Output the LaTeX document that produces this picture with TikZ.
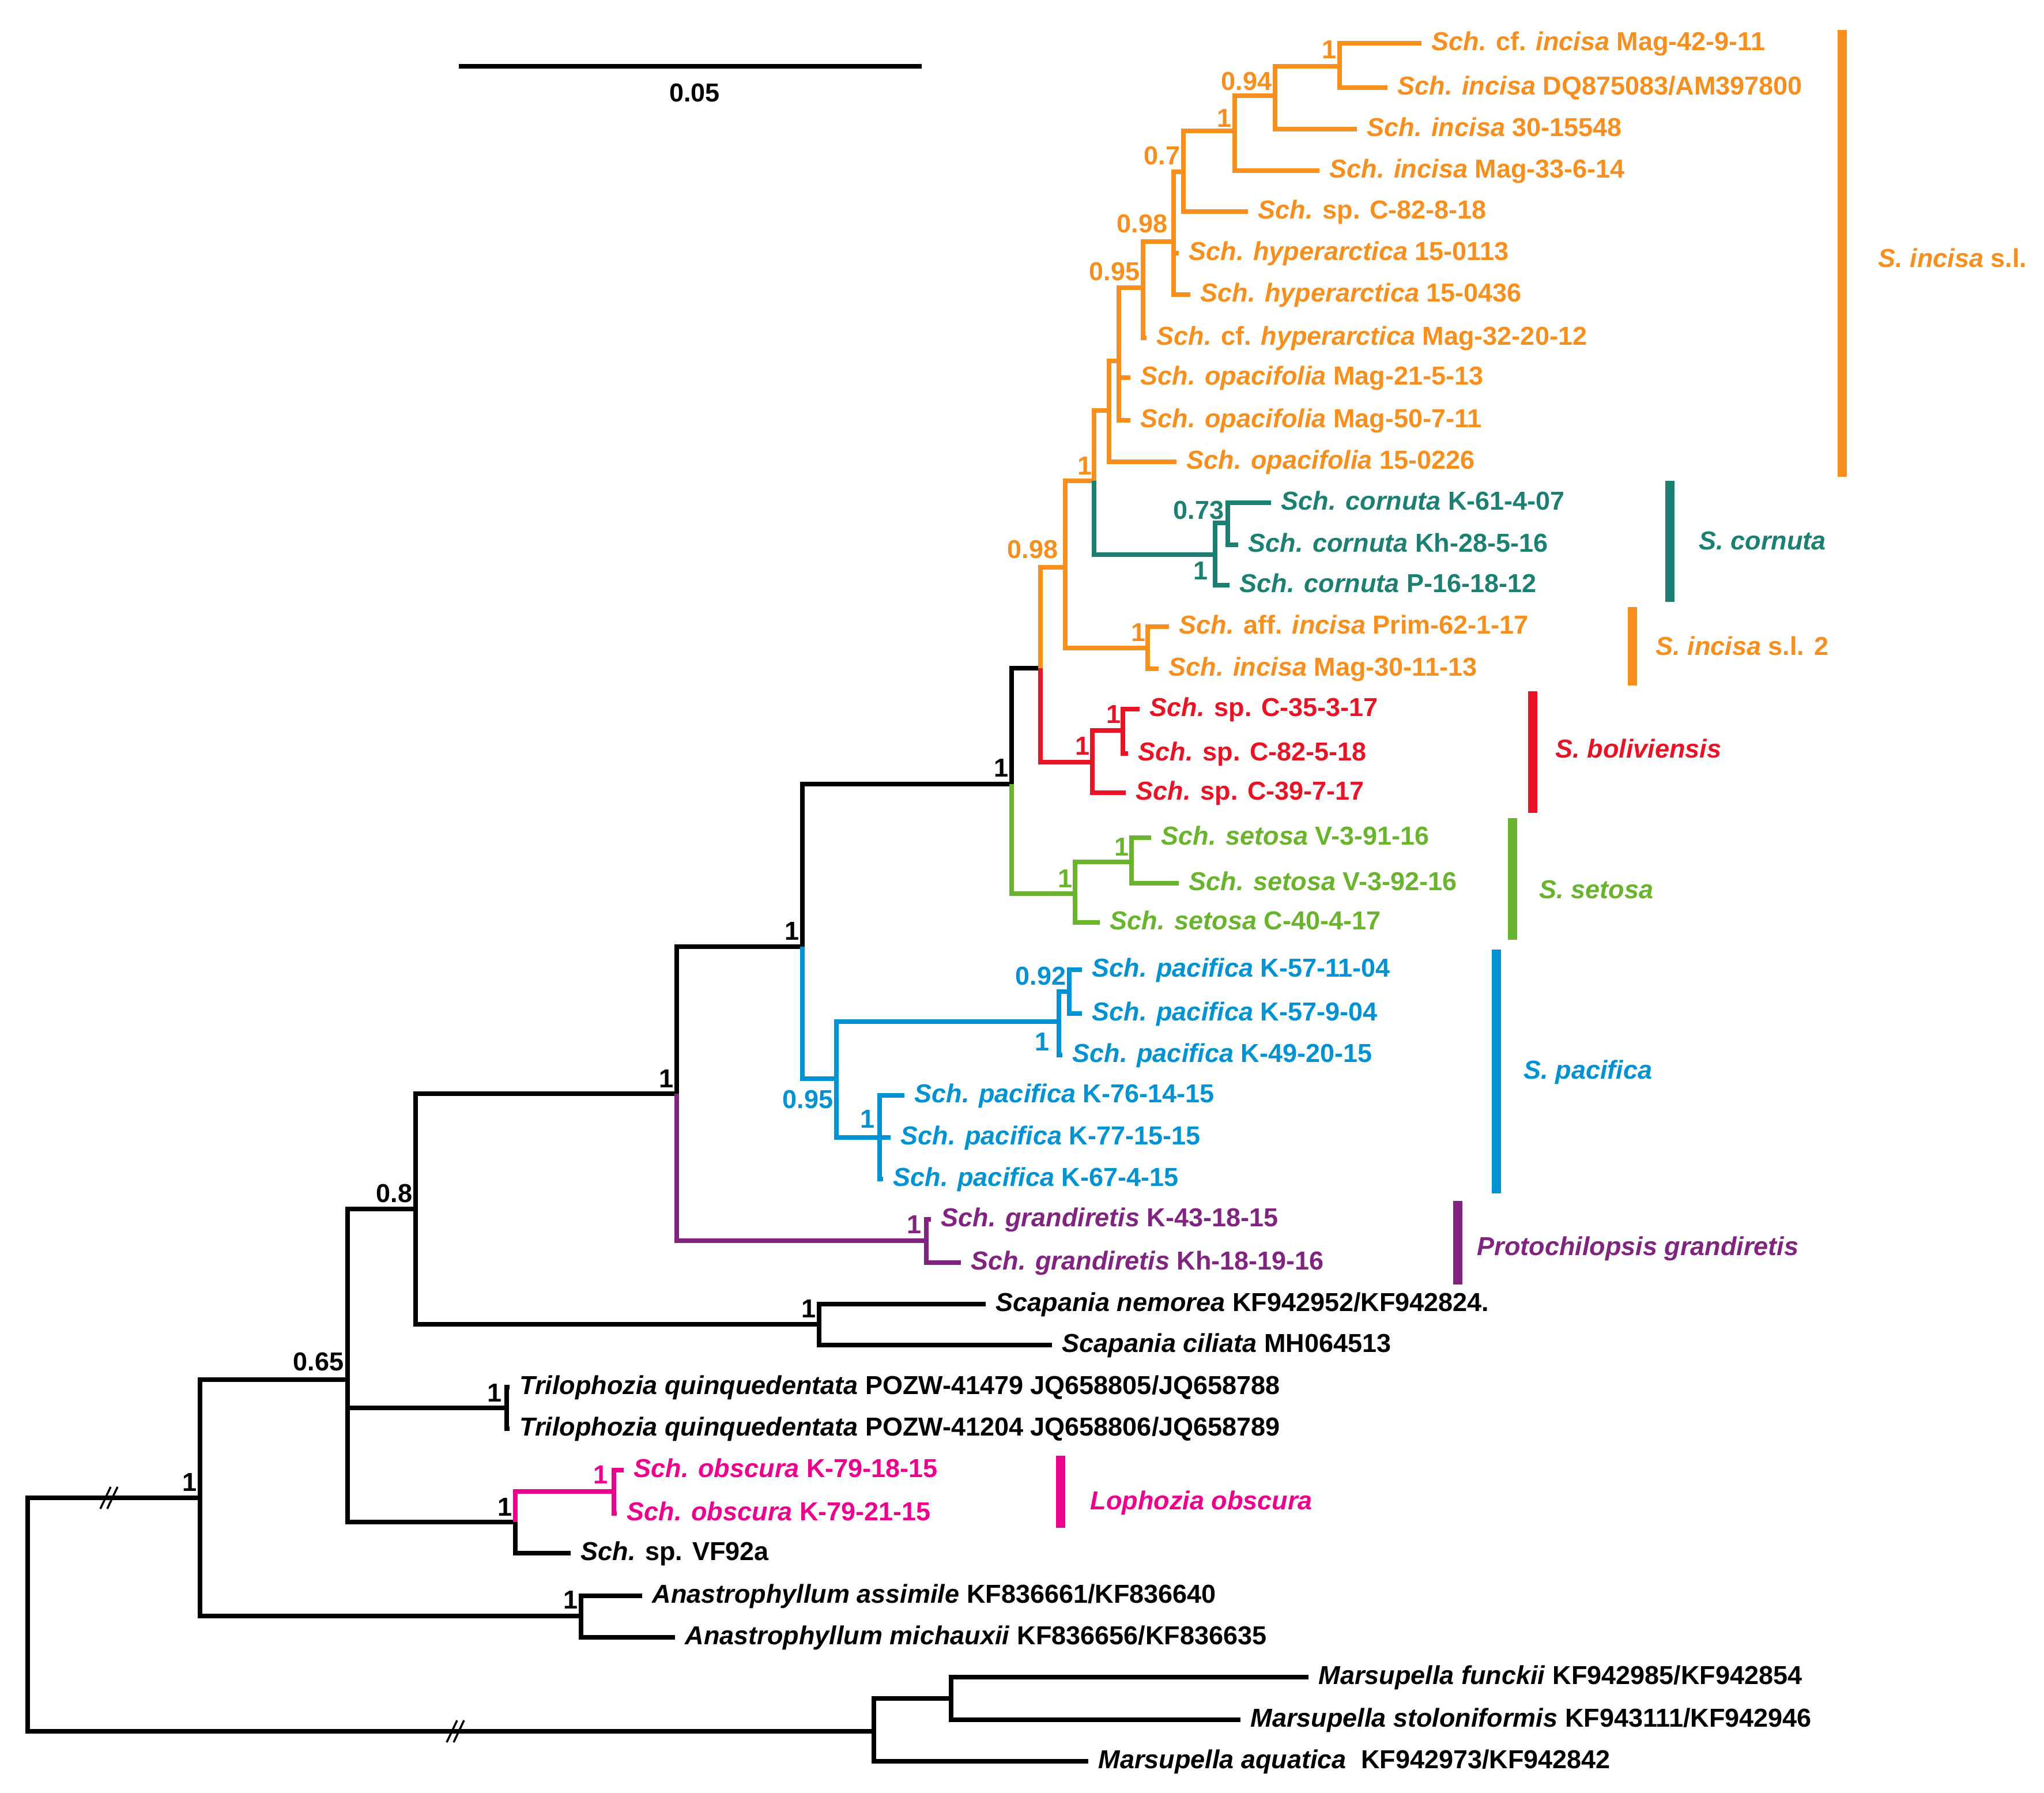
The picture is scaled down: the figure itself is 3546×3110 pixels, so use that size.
\documentclass[tikz,border=0pt]{standalone}
\usepackage{fontspec}
\setmainfont{Liberation Sans}
\usetikzlibrary{calc}
\definecolor{incorange}{RGB}{247,143,30}
\definecolor{cornteal}{RGB}{27,128,114}
\definecolor{bolred}{RGB}{232,20,38}
\definecolor{setgreen}{RGB}{106,180,45}
\definecolor{pacblue}{RGB}{0,146,210}
\definecolor{grapurple}{RGB}{128,36,128}
\definecolor{obspink}{RGB}{236,0,140}

\begin{document}
\begin{tikzpicture}[
        x=0.01cm, y=-0.01cm,
        font=\bfseries\fontsize{12.8}{15}\selectfont,
        branch/.style={line width=0.08cm},
        tip/.style={anchor=west, inner xsep=0.17cm, inner ysep=0pt, text height=0.72em, text depth=0pt},
        supp/.style={anchor=south east, inner sep=0pt},
        suppbelow/.style={anchor=north east, inner sep=0pt},
        cladebar/.style={line width=0.16cm},
        cladename/.style={anchor=west, inner sep=0pt, text height=0.72em, text depth=0pt}
    ]
        \useasboundingbox (0,0) rectangle (3546,3110);

        % Internal nodes
        \coordinate (R) at (48,2800);
        \coordinate (A) at (347,2598);
        \coordinate (B) at (603,2393);
        \coordinate (An) at (1008,2803);
        \coordinate (N08) at (721,2097);
        \coordinate (Tri) at (879,2442);
        \coordinate (Obs) at (894,2640);
        \coordinate (ObsP) at (1065,2587);
        \coordinate (Sca) at (1421,2297);
        \coordinate (C) at (1174,1897);
        \coordinate (Gra) at (1607,2152);
        \coordinate (D) at (1392,1642);
        \coordinate (Pac) at (1451,1871);
        \coordinate (P1) at (1837,1772);
        \coordinate (P092) at (1855,1720);
        \coordinate (P2) at (1526,1973);
        \coordinate (E) at (1755,1360);
        \coordinate (Set) at (1865,1550);
        \coordinate (Set2) at (1963,1495);
        \coordinate (F) at (1805,1159);
        \coordinate (Bol) at (1895,1322);
        \coordinate (Bol2) at (1948,1267);
        \coordinate (G) at (1848,984);
        \coordinate (Inc2) at (1991,1124);
        \coordinate (H) at (1898,834);
        \coordinate (Cor) at (2108,962);
        \coordinate (Cor2) at (2130,907);
        \coordinate (I) at (1924,712);
        \coordinate (K) at (1941,626);
        \coordinate (N095) at (1983,499);
        \coordinate (N098) at (2036,419);
        \coordinate (N07) at (2053,298);
        \coordinate (N1a) at (2142,227);
        \coordinate (N094) at (2212,166);
        \coordinate (N1b) at (2324,115);
        \coordinate (Mar) at (1516,3003);
        \coordinate (Mar2) at (1650,2946);

        % Tip labels
        \node[tip, incorange] (t01) at (2466,75) {\textit{Sch.} cf. \textit{incisa} Mag-42-9-11};
        \node[tip, incorange] (t02) at (2407,152) {\textit{Sch. incisa} DQ875083/AM397800};
        \node[tip, incorange] (t03) at (2354,224) {\textit{Sch. incisa} 30-15548};
        \node[tip, incorange] (t04) at (2289,296) {\textit{Sch. incisa} Mag-33-6-14};
        \node[tip, incorange] (t05) at (2165,367) {\textit{Sch.} sp. C-82-8-18};
        \node[tip, incorange] (t06) at (2045,439) {\textit{Sch. hyperarctica} 15-0113};
        \node[tip, incorange] (t07) at (2065,511) {\textit{Sch. hyperarctica} 15-0436};
        \node[tip, incorange] (t08) at (1989,586) {\textit{Sch.} cf. \textit{hyperarctica} Mag-32-20-12};
        \node[tip, incorange] (t09) at (1961,655) {\textit{Sch. opacifolia} Mag-21-5-13};
        \node[tip, incorange] (t10) at (1961,729) {\textit{Sch. opacifolia} Mag-50-7-11};
        \node[tip, incorange] (t11) at (2041,801) {\textit{Sch. opacifolia} 15-0226};
        \node[tip, cornteal] (t12) at (2205,872) {\textit{Sch. cornuta} K-61-4-07};
        \node[tip, cornteal] (t13) at (2148,945) {\textit{Sch. cornuta} Kh-28-5-16};
        \node[tip, cornteal] (t14) at (2133,1015) {\textit{Sch. cornuta} P-16-18-12};
        \node[tip, incorange] (t15) at (2028,1087) {\textit{Sch.} aff. \textit{incisa} Prim-62-1-17};
        \node[tip, incorange] (t16) at (2010,1160) {\textit{Sch. incisa} Mag-30-11-13};
        \node[tip, bolred] (t17) at (1977,1230) {\textit{Sch.} sp. C-35-3-17};
        \node[tip, bolred] (t18) at (1957,1307) {\textit{Sch.} sp. C-82-5-18};
        \node[tip, bolred] (t19) at (1953,1375) {\textit{Sch.} sp. C-39-7-17};
        \node[tip, setgreen] (t20) at (1997,1453) {\textit{Sch. setosa} V-3-91-16};
        \node[tip, setgreen] (t21) at (2045,1532) {\textit{Sch. setosa} V-3-92-16};
        \node[tip, setgreen] (t22) at (1908,1600) {\textit{Sch. setosa} C-40-4-17};
        \node[tip, pacblue] (t23) at (1877,1682) {\textit{Sch. pacifica} K-57-11-04};
        \node[tip, pacblue] (t24) at (1877,1758) {\textit{Sch. pacifica} K-57-9-04};
        \node[tip, pacblue] (t25) at (1843,1830) {\textit{Sch. pacifica} K-49-20-15};
        \node[tip, pacblue] (t26) at (1569,1900) {\textit{Sch. pacifica} K-76-14-15};
        \node[tip, pacblue] (t27) at (1545,1973) {\textit{Sch. pacifica} K-77-15-15};
        \node[tip, pacblue] (t28) at (1532,2045) {\textit{Sch. pacifica} K-67-4-15};
        \node[tip, grapurple] (t29) at (1615,2115) {\textit{Sch. grandiretis} K-43-18-15};
        \node[tip, grapurple] (t30) at (1667,2190) {\textit{Sch. grandiretis} Kh-18-19-16};
        \node[tip] (t31) at (1710,2262) {\textit{Scapania nemorea} KF942952/KF942824.};
        \node[tip] (t32) at (1825,2333) {\textit{Scapania ciliata} MH064513};
        \node[tip] (t33) at (884,2406) {\textit{Trilophozia quinquedentata} POZW-41479 JQ658805/JQ658788};
        \node[tip] (t34) at (884,2478) {\textit{Trilophozia quinquedentata} POZW-41204 JQ658806/JQ658789};
        \node[tip, obspink] (t35) at (1082,2550) {\textit{Sch. obscura} K-79-18-15};
        \node[tip, obspink] (t36) at (1070,2625) {\textit{Sch. obscura} K-79-21-15};
        \node[tip] (t37) at (990,2694) {\textit{Sch.} sp. VF92a};
        \node[tip] (t38) at (1114,2768) {\textit{Anastrophyllum assimile} KF836661/KF836640};
        \node[tip] (t39) at (1171,2840) {\textit{Anastrophyllum michauxii} KF836656/KF836635};
        \node[tip] (t40) at (2270,2909) {\textit{Marsupella funckii} KF942985/KF942854};
        \node[tip] (t41) at (2152,2983) {\textit{Marsupella stoloniformis} KF943111/KF942946};
        \node[tip] (t42) at (1888,3055) {\textit{Marsupella aquatica}\ \ KF942973/KF942842};

        % Backbone
        \draw[branch] (R) |- (A);
        \draw[branch] (R) |- (Mar);
        \draw[branch] (A) |- (B);
        \draw[branch] (A) |- (An);
        \draw[branch] (B) |- (N08);
        \draw[branch] (B) |- (Tri);
        \draw[branch] (B) |- (Obs);
        \draw[branch] (N08) |- (C);
        \draw[branch] (N08) |- (Sca);
        \draw[branch] (C) |- (D);
        \draw[branch] (D) |- (E);
        \draw[branch] (E) |- (F);

        % Outgroups
        \draw[branch] (Sca) |- (t31);
        \draw[branch] (Sca) |- (t32);
        \draw[branch] (Tri) |- (t33);
        \draw[branch] (Tri) |- (t34);
        \draw[branch] (Obs) |- (t37);
        \draw[branch] (An) |- (t38);
        \draw[branch] (An) |- (t39);
        \draw[branch] (Mar) |- (Mar2);
        \draw[branch] (Mar) |- (t42);
        \draw[branch] (Mar2) |- (t40);
        \draw[branch] (Mar2) |- (t41);

        % Lophozia obscura
        \draw[branch, obspink] (Obs) |- (ObsP);
        \draw[branch, obspink] (ObsP) |- (t35);
        \draw[branch, obspink] (ObsP) |- (t36);

        % Protochilopsis
        \draw[branch, grapurple] (C) |- (Gra);
        \draw[branch, grapurple] (Gra) |- (t29);
        \draw[branch, grapurple] (Gra) |- (t30);

        % S. pacifica
        \draw[branch, pacblue] (D) |- (Pac);
        \draw[branch, pacblue] (Pac) |- (P1);
        \draw[branch, pacblue] (Pac) |- (P2);
        \draw[branch, pacblue] (P1) |- (P092);
        \draw[branch, pacblue] (P1) |- (t25);
        \draw[branch, pacblue] (P092) |- (t23);
        \draw[branch, pacblue] (P092) |- (t24);
        \draw[branch, pacblue] (P2) |- (t26);
        \draw[branch, pacblue] (P2) -- (t27);
        \draw[branch, pacblue] (P2) |- (t28);

        % S. setosa
        \draw[branch, setgreen] (E) |- (Set);
        \draw[branch, setgreen] (Set) |- (Set2);
        \draw[branch, setgreen] (Set) |- (t22);
        \draw[branch, setgreen] (Set2) |- (t20);
        \draw[branch, setgreen] (Set2) |- (t21);

        % S. boliviensis
        \draw[branch, bolred] (F) |- (Bol);
        \draw[branch, bolred] (Bol) |- (Bol2);
        \draw[branch, bolred] (Bol) |- (t19);
        \draw[branch, bolred] (Bol2) |- (t17);
        \draw[branch, bolred] (Bol2) |- (t18);

        % S. incisa s.l. and S. cornuta
        \draw[branch, incorange] (F) |- (G);
        \draw[branch, incorange] (G) |- (H);
        \draw[branch, incorange] (G) |- (Inc2);
        \draw[branch, incorange] (Inc2) |- (t15);
        \draw[branch, incorange] (Inc2) |- (t16);
        \draw[branch, cornteal] (H) |- (Cor);
        \draw[branch, cornteal] (Cor) |- (Cor2);
        \draw[branch, cornteal] (Cor) |- (t14);
        \draw[branch, cornteal] (Cor2) |- (t12);
        \draw[branch, cornteal] (Cor2) |- (t13);
        \draw[branch, incorange] (H) |- (I);
        \draw[branch, incorange] (I) |- (K);
        \draw[branch, incorange] (I) |- (t11);
        \draw[branch, incorange] (K) |- (N095);
        \draw[branch, incorange] (K) |- (t09);
        \draw[branch, incorange] (K) |- (t10);
        \draw[branch, incorange] (N095) |- (N098);
        \draw[branch, incorange] (N095) |- (t08);
        \draw[branch, incorange] (N098) |- (N07);
        \draw[branch, incorange] (N098) |- (t06);
        \draw[branch, incorange] (N098) |- (t07);
        \draw[branch, incorange] (N07) |- (N1a);
        \draw[branch, incorange] (N07) |- (t05);
        \draw[branch, incorange] (N1a) |- (N094);
        \draw[branch, incorange] (N1a) |- (t04);
        \draw[branch, incorange] (N094) |- (N1b);
        \draw[branch, incorange] (N094) |- (t03);
        \draw[branch, incorange] (N1b) |- (t01);
        \draw[branch, incorange] (N1b) |- (t02);

        % Break marks
        \foreach \bx/\by in {189/2598, 790/3003}
            \foreach \dx in {-6,6}
                \draw[line width=0.035cm] (\bx+\dx-9,\by+19) -- (\bx+\dx+9,\by-19);

        % Support values
        \node[supp] (sA) at ([shift={(-5,-11)}]A) {1};
        \node[supp] (sB) at ([shift={(-6,-14)}]B) {0.65};
        \node[supp] (sN08) at ([shift={(-5,-10)}]N08) {0.8};
        \node[supp] (sC) at ([shift={(-5,-10)}]C) {1};
        \node[supp] (sD) at ([shift={(-5,-11)}]D) {1};
        \node[supp] (sE) at ([shift={(-5,-12)}]E) {1};
        \node[supp] (sSca) at ([shift={(-5,-11)}]Sca) {1};
        \node[supp] (sTri) at ([shift={(-8,-10)}]Tri) {1};
        \node[supp] (sObs) at ([shift={(-5,-10)}]Obs) {1};
        \node[supp] (sAn) at ([shift={(-5,-12)}]An) {1};
        \node[supp, obspink] (sObsP) at ([shift={(-10,-13)}]ObsP) {1};
        \node[supp, grapurple] (sGra) at ([shift={(-8,-12)}]Gra) {1};
        \node[supp, pacblue] (sP092) at ([shift={(-5,-10)}]P092) {0.92};
        \node[suppbelow, pacblue] (sP1) at ([shift={(-16,19)}]P1) {1};
        \node[suppbelow, pacblue] (sPac) at ([shift={(-5,19)}]Pac) {0.95};
        \node[supp, pacblue] (sP2) at ([shift={(-8,-16)}]P2) {1};
        \node[supp, setgreen] (sSet) at ([shift={(-4,-10)}]Set) {1};
        \node[supp, setgreen] (sSet2) at ([shift={(-4,-10)}]Set2) {1};
        \node[supp, bolred] (sBol) at ([shift={(-4,-12)}]Bol) {1};
        \node[supp, bolred] (sBol2) at ([shift={(-3,-12)}]Bol2) {1};
        \node[supp, incorange] (sG) at ([shift={(-12,-14)}]G) {0.98};
        \node[supp, incorange] (sInc2) at ([shift={(-3,-11)}]Inc2) {1};
        \node[supp, incorange] (sH) at ([shift={(-3,-10)}]H) {1};
        \node[supp, cornteal] (sCor2) at ([shift={(-6,-5)}]Cor2) {0.73};
        \node[suppbelow, cornteal] (sCor) at ([shift={(-12,12)}]Cor) {1};
        \node[supp, incorange] (sN095) at ([shift={(-5,-11)}]N095) {0.95};
        \node[supp, incorange] (sN098) at ([shift={(-10,-14)}]N098) {0.98};
        \node[supp, incorange] (sN07) at ([shift={(-5,-11)}]N07) {0.7};
        \node[supp, incorange] (sN1a) at ([shift={(-5,-6)}]N1a) {1};
        \node[supp, incorange] (sN094) at ([shift={(-5,-8)}]N094) {0.94};
        \node[supp, incorange] (sN1b) at ([shift={(-5,-13)}]N1b) {1};

        % Clade bars
        \draw[cladebar, incorange] (3196,52) -- (3196,827);
        \node[cladename, incorange] (cIncisa) at (3258,451) {\textit{S. incisa} s.l.};
        \draw[cladebar, cornteal] (2897,834) -- (2897,1044);
        \node[cladename, cornteal] (cCornuta) at (2947,941) {\textit{S. cornuta}};
        \draw[cladebar, incorange] (2832,1053) -- (2832,1189);
        \node[cladename, incorange] (cIncisaTwo) at (2872,1124) {\textit{S. incisa} s.l. 2};
        \draw[cladebar, bolred] (2659,1199) -- (2659,1410);
        \node[cladename, bolred] (cBol) at (2698,1302) {\textit{S. boliviensis}};
        \draw[cladebar, setgreen] (2624,1419) -- (2624,1630);
        \node[cladename, setgreen] (cSet) at (2670,1546) {\textit{S. setosa}};
        \draw[cladebar, pacblue] (2596,1647) -- (2596,2070);
        \node[cladename, pacblue] (cPac) at (2643,1859) {\textit{S. pacifica}};
        \draw[cladebar, grapurple] (2529,2083) -- (2529,2228);
        \node[cladename, grapurple] (cGra) at (2562,2165) {\textit{Protochilopsis grandiretis}};
        \draw[cladebar, obspink] (1840,2525) -- (1840,2650);
        \node[cladename, obspink] (cObs) at (1891,2606) {\textit{Lophozia obscura}};

        % Scale bar
        \coordinate (sbl) at (796,115);
        \coordinate (sbr) at (1599,115);
        \draw[branch] (sbl) -- (sbr);
        \node (sblab) at (1205,161) {0.05};
    \end{tikzpicture}
\end{document}
